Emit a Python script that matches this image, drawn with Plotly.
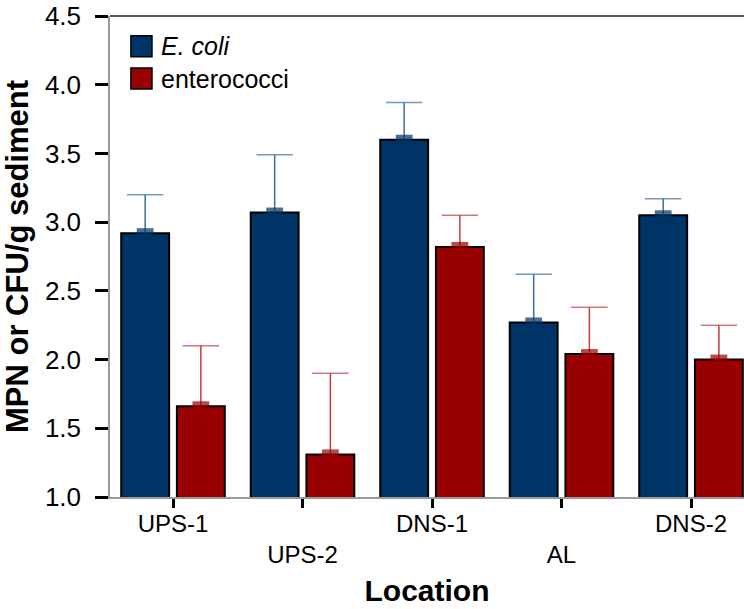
import plotly.graph_objects as go

# ---- data ----
locations = ["UPS-1", "UPS-2", "DNS-1", "AL", "DNS-2"]
tick_labels = ["UPS-1", "<br>UPS-2", "DNS-1", "<br>AL", "DNS-2"]
series_names = ["<i>E. coli</i>", "enterococci"]
ecoli = [2.92, 3.07, 3.60, 2.27, 3.05]
ecoli_err = [0.28, 0.42, 0.27, 0.35, 0.12]
entero = [1.66, 1.31, 2.82, 2.04, 2.00]
entero_err = [0.44, 0.59, 0.23, 0.34, 0.25]

# ---- styles ----
FONT = "Liberation Sans, Arial, sans-serif"
BAR_COLORS = ["#003366", "#990000"]
WHISKER_COLORS = ["#3f6d9c", "#c43c3c"]
BARGAP = 0.14

fig = go.Figure()

for vals, errs, bc, wc, og in [
    (ecoli, ecoli_err, BAR_COLORS[0], WHISKER_COLORS[0], "a"),
    (entero, entero_err, BAR_COLORS[1], WHISKER_COLORS[1], "b"),
]:
    fig.add_trace(go.Bar(
        x=locations, y=vals, offsetgroup=og,
        marker=dict(color=bc, line=dict(color="black", width=2)),
        error_y=dict(type="data", symmetric=False, array=errs,
                     arrayminus=[0] * len(errs), width=0,
                     thickness=1.5, color=wc),
        showlegend=False, hoverinfo="skip",
    ))
    # caps (top of whisker) and small base blocks (top of bar)
    tops = [v + e for v, e in zip(vals, errs)]
    n = len(vals)
    fig.add_trace(go.Scatter(
        x=locations + locations, y=tops + vals, mode="markers",
        offsetgroup=og,
        marker=dict(symbol="line-ew",
                    size=[26] * n + [12] * n,
                    line=dict(width=[1.5] * n + [10] * n,
                              color=[wc] * n + [bc] * n)),
        showlegend=False, hoverinfo="skip", cliponaxis=False,
    ))

fig.update_layout(
    width=744, height=609,
    margin=dict(l=110, r=0, t=16, b=112),
    paper_bgcolor="white", plot_bgcolor="white",
    barmode="group", bargap=BARGAP, bargroupgap=0.14,
    scattermode="group", scattergap=BARGAP,
    showlegend=False,
    font=dict(family=FONT, color="black"),
)

fig.update_xaxes(
    type="category",
    range=[-0.4865, 4.409],
    tickmode="array", tickvals=locations, ticktext=tick_labels,
    tickfont=dict(size=24, family=FONT, color="black"),
    ticks="outside", ticklen=9, tickwidth=3, tickcolor="black",
    ticklabelstandoff=-5,
    showline=True, linecolor="#9a9a9a", linewidth=1.5,
    showgrid=False, zeroline=False,
    title=dict(text="<b>Location</b>", font=dict(size=30, family=FONT),
               standoff=13),
)
fig.update_yaxes(
    range=[1.0, 4.5], dtick=0.5, tick0=1.0, tickformat=".1f",
    tickfont=dict(size=26, family=FONT, color="black"),
    ticks="outside", ticklen=13, tickwidth=3, tickcolor="black",
    ticklabelstandoff=9, ticklabeloverflow="allow",
    showline=True, linecolor="#9a9a9a", linewidth=1.5,
    showgrid=False, zeroline=False,
    title=dict(text="<b>MPN or CFU/g sediment</b>",
               font=dict(size=31, family=FONT), standoff=10),
)

# top frame line
fig.add_shape(type="line", xref="paper", yref="paper",
              x0=0, x1=1, y0=1, y1=1,
              line=dict(color="#5a5a5a", width=2))

# custom legend (large swatches)
leg_y = [0.937, 0.870]
for name, col, yy in zip(series_names, BAR_COLORS, leg_y):
    fig.add_shape(type="rect", xref="paper", yref="paper",
                  x0=0.033, x1=0.0662, y0=yy - 0.0218, y1=yy + 0.0218,
                  fillcolor=col, line=dict(color="black", width=1.5))
    fig.add_annotation(xref="paper", yref="paper", x=0.078, y=yy,
                       xanchor="left", yanchor="middle", showarrow=False,
                       text=name, font=dict(size=25, family=FONT,
                                            color="black"))

# remove the default 8px page margin so the figure fills the window
fig.write_html("out.html",
               config={"displayModeBar": False},
               post_script="document.body.style.margin='0';")
